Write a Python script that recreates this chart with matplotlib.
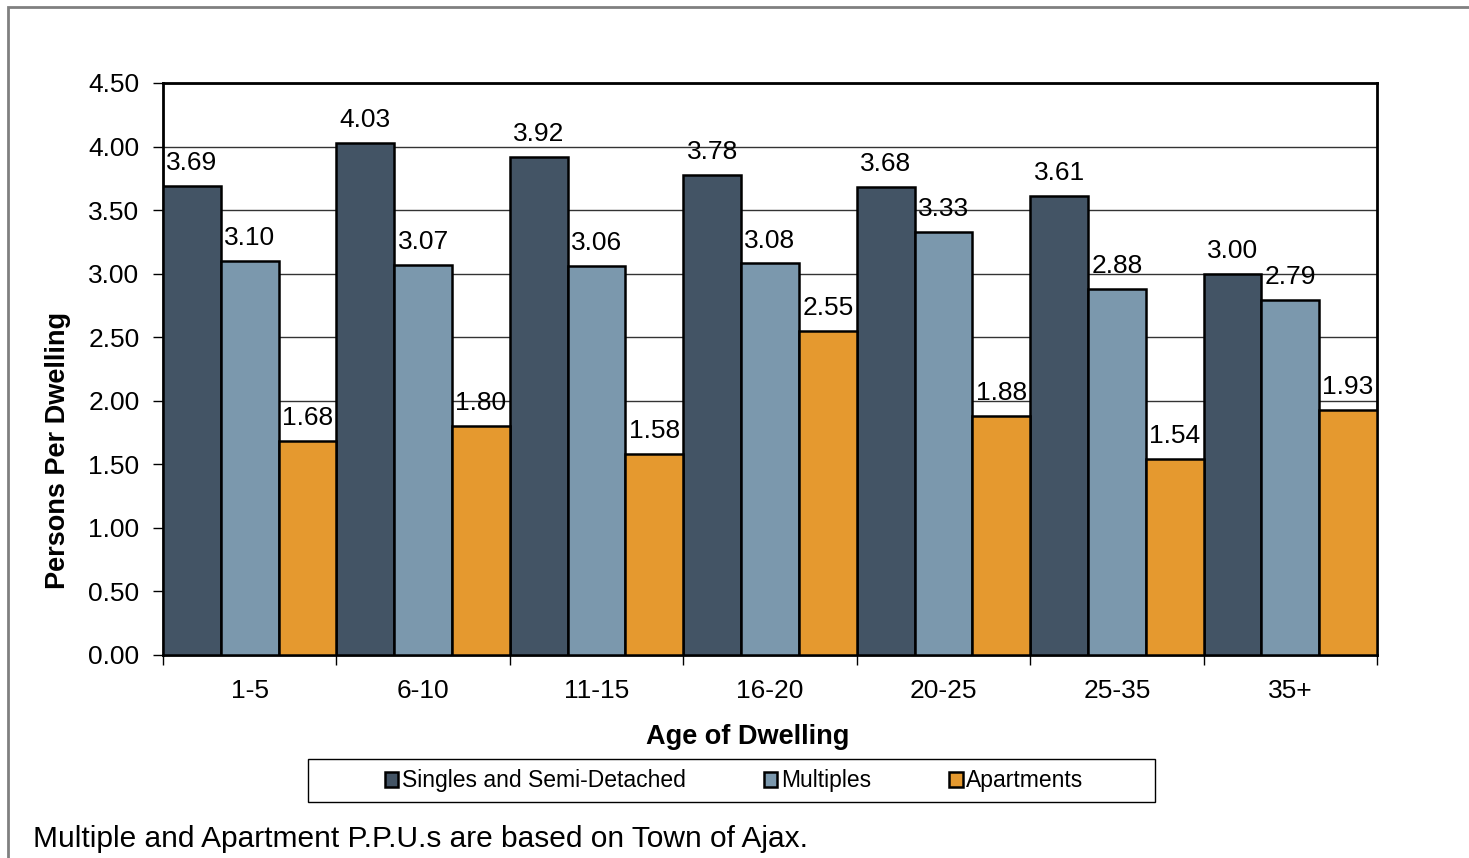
import numpy as np
import matplotlib.pyplot as plt
from matplotlib.patches import Rectangle

categories = ["1-5", "6-10", "11-15", "16-20", "20-25", "25-35", "35+"]
singles = [3.69, 4.03, 3.92, 3.78, 3.68, 3.61, 3.00]
multiples = [3.10, 3.07, 3.06, 3.08, 3.33, 2.88, 2.79]
apartments = [1.68, 1.80, 1.58, 2.55, 1.88, 1.54, 1.93]
series_names = ["Singles and Semi-Detached", "Multiples", "Apartments"]
colors = ["#435465", "#7B98AD", "#E5992F"]

plt.rcParams['font.family'] = ['Liberation Sans', 'DejaVu Sans']
FS = 19

fig = plt.figure(figsize=(14.69, 8.58), dpi=100)
ax = fig.add_axes([163/1469, 1-655/858, 1214/1469, 572/858])

x = np.arange(len(categories))
w = 1/3
handles = []
for k, (vals, col) in enumerate(zip([singles, multiples, apartments], colors)):
    bars = ax.bar(x + (k-1)*w, vals, w, color=col, edgecolor="black", linewidth=1.8, zorder=3)
    handles.append(bars)
    for b, v in zip(bars, vals):
        ax.annotate(f"{v:.2f}", (b.get_x() + b.get_width()/2, v), xytext=(0, 11.5),
                    textcoords="offset points", ha="center", va="baseline", fontsize=FS, zorder=4)

ax.set_xlim(-0.5, len(categories)-0.5)
ax.set_ylim(0, 4.5)
yt = np.arange(0, 4.51, 0.5)
ax.set_yticks(yt)
ax.set_yticklabels([f"{t:.2f}" for t in yt], fontsize=FS)
ax.set_xticks(x)
ax.set_xticklabels(categories, fontsize=FS)
ax.set_xticks(np.arange(-0.5, len(categories), 1), minor=True)
ax.tick_params(axis="x", which="major", length=0, pad=17)
ax.tick_params(axis="x", which="minor", length=7, width=1, direction="out")
ax.tick_params(axis="y", length=7, width=1, direction="out", pad=10)
ax.yaxis.grid(True, color="#333333", linewidth=1, zorder=0)
ax.set_axisbelow(True)
for s in ax.spines.values():
    s.set_linewidth(2)
    s.set_color("black")

ax.set_xlabel("Age of Dwelling", fontsize=FS+0.5, fontweight="bold", va="center")
ax.xaxis.set_label_coords((747.5-163)/1214, -(737-655)/572)
ax.set_ylabel("Persons Per Dwelling", fontsize=FS+0.5, fontweight="bold", va="center")
ax.yaxis.set_label_coords((58-163)/1214, (655-450)/572)

# legend with a plain box
fig.legend(handles, series_names, loc="center", bbox_to_anchor=(734/1469, 1-781/858),
           ncol=3, frameon=False, fontsize=16.5, handlelength=0.6, handleheight=0.6,
           handletextpad=0.15, columnspacing=3.4)
fig.patches.append(Rectangle((308/1469, 1-802/858), 847/1469, 43/858, transform=fig.transFigure,
                             fill=False, edgecolor="black", linewidth=1))

# outer border
fig.patches.append(Rectangle((8/1469, -0.05), 1.1, 1-7/858+0.05, transform=fig.transFigure,
                             fill=False, edgecolor="#808080", linewidth=2))

fig.text(33/1469, 1-839/858, "Multiple and Apartment P.P.U.s are based on Town of Ajax.",
         fontsize=21.5, va="center", ha="left")

fig.savefig("out.png", dpi=100)
